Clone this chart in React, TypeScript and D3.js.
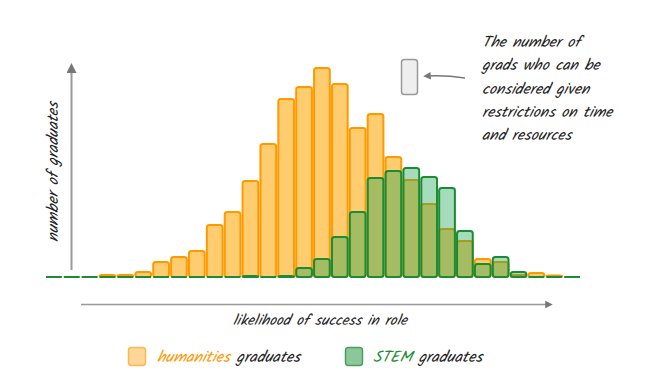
import React from "react";
import * as d3 from "d3";

const WIDTH = 646;
const HEIGHT = 391;
const FONT = "Kalam, 'Open Sans', sans-serif";

// bins of "likelihood of success", left to right
const bins = d3.range(30);
const humanities = [0, 0, 0, 2, 2, 5, 15, 20, 26, 52, 65, 96, 133, 178, 190, 209, 193, 149, 163, 120, 97, 73, 48, 36, 18, 15, 2, 4, 1.5, 0];
const stem = [0, 0, 0, 0, 0, 0, 0, 0, 0, 0, 0, 1, 0, 1, 9, 18, 40, 65, 99, 106, 109, 100, 89, 46, 13, 20, 5, 0, 0, 0];

const noteLines = [
  "The number of",
  "grads who can be",
  "considered given",
  "restrictions on time",
  "and resources",
];

const ORANGE = "#ff9900";
const ORANGE_FILL = "#ffcd70";
const GREEN = "#1a8c34";
const GREEN_FILL = "rgba(22,160,80,0.38)";
const AXIS = "#999";

function App() {
  const x = d3.scaleBand<number>().domain(bins).range([46, 580]).paddingInner(0.12);
  const y = d3.scaleLinear().domain([0, 220]).range([277, 57]);

  const bars = (values: number[], fill: string, stroke: string) =>
    values.map((v, i) =>
      v > 0 ? (
        <rect
          key={i}
          x={x(i)}
          y={y(v)}
          width={x.bandwidth()}
          height={y(0) - y(v)}
          rx={2.5}
          fill={fill}
          stroke={stroke}
          strokeWidth={2}
        />
      ) : (
        <line key={i} x1={x(i)} x2={x(i)! + x.bandwidth()} y1={y(0)} y2={y(0)} stroke={stroke} strokeWidth={2} />
      )
    );

  return (
    <svg width={WIDTH} height={HEIGHT} style={{ position: "absolute", left: 0, top: 0 }} fontFamily={FONT}>
      <defs>
        <marker id="arr" viewBox="0 0 10 10" refX="5" refY="5" markerWidth="5" markerHeight="5" orient="auto">
          <path d="M0,0 L10,5 L0,10 Z" fill="#777" />
        </marker>
      </defs>

      {/* axes */}
      <line x1={71.5} y1={270} x2={71.5} y2={68} stroke={AXIS} strokeWidth={2} markerEnd="url(#arr)" />
      <line x1={81} y1={304.5} x2={549} y2={304.5} stroke={AXIS} strokeWidth={1.5} markerEnd="url(#arr)" />

      <g>{bars(humanities, ORANGE_FILL, ORANGE)}</g>
      <g>{bars(stem, GREEN_FILL, GREEN)}</g>

      <text
        transform="translate(58 172) rotate(-90)"
        textAnchor="middle"
        fontSize={16}
        fontStyle="italic"
        fill="#222"
      >
        number of graduates
      </text>
      <text x={320} y={325} textAnchor="middle" fontSize={15} fontStyle="italic" fill="#222">
        likelihood of success in role
      </text>

      {/* annotation */}
      <rect x={401.5} y={59.5} width={16} height={35} rx={3} fill="#eee" stroke="#999" strokeWidth={1.5} />
      <path d="M465,78 Q445,75 427,76" fill="none" stroke="#777" strokeWidth={1.5} markerEnd="url(#arr)" />
      {noteLines.map((t, i) => (
        <text key={t} x={482} y={47 + i * 23.3} fontSize={15.7} fontStyle="italic" fill="#222">
          {t}
        </text>
      ))}

      {/* legend */}
      <rect x={128.5} y={347.5} width={17} height={18} rx={3} fill="#ffd699" stroke="#ffb84d" strokeWidth={1.5} />
      <text x={157} y={362} fontSize={16} fontStyle="italic" fill="#222">
        <tspan fill={ORANGE}>humanities</tspan> graduates
      </text>
      <rect x={345.5} y={347.5} width={17} height={18} rx={3} fill="#8cc79a" stroke="#4a9f5e" strokeWidth={1.5} />
      <text x={373} y={362} fontSize={16} fontStyle="italic" fill="#222">
        <tspan fill={GREEN}>STEM</tspan> graduates
      </text>
    </svg>
  );
}

export default App;
